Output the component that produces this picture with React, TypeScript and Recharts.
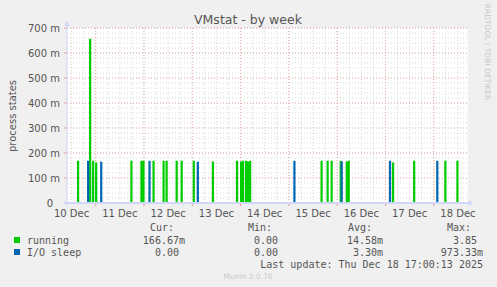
import React from "react";
import { ComposedChart, Line, XAxis, YAxis, CartesianGrid } from "recharts";

// spike times in hours counted from 10 Dec 00:00, values in process states
const runningTimes = [15, 21, 22.5, 24, 41.5, 46.5, 47.5, 52.5, 57.5, 59, 64, 66.5, 72.5, 82, 94, 96, 97, 98.5, 99.5, 100.5, 136, 139, 141, 145.5, 148.5, 149.5, 171.5, 182, 197.5, 203.5];
const runningValues = [0.1667, 0.655, 0.1667, 0.16, 0.1667, 0.1667, 0.1667, 0.1667, 0.1667, 0.1667, 0.1667, 0.1667, 0.1667, 0.1633, 0.1667, 0.1633, 0.1667, 0.1667, 0.1633, 0.1667, 0.1667, 0.1667, 0.1667, 0.1667, 0.1633, 0.1667, 0.16, 0.1667, 0.1667, 0.1667];
const ioSleepTimes = [20, 26.5, 50.5, 74.5, 122.5, 146, 170, 193.5];
const ioSleepValues = [0.1667, 0.163, 0.1667, 0.163, 0.1667, 0.1633, 0.1667, 0.1667];

const dayLabels = ["10 Dec", "11 Dec", "12 Dec", "13 Dec", "14 Dec", "15 Dec", "16 Dec", "17 Dec", "18 Dec"];
const yTicks = [0, 0.1, 0.2, 0.3, 0.4, 0.5, 0.6, 0.7];

const legendRows = [
  { name: "running", color: "#00CC00", cur: "166.67m", min: "0.00", avg: "14.58m", max: "3.85" },
  { name: "I/O sleep", color: "#0066B3", cur: "0.00", min: "0.00", avg: "3.30m", max: "973.33m" },
];

const START = 9.75;
const END = 209;
const STEP = 0.5; // rrd step, 30 minutes

function toSeries(times: number[], values: number[]) {
  const pts: { t: number; v: number }[] = [{ t: START, v: 0 }];
  times.forEach((t, i) => {
    pts.push({ t, v: values[i] });
    pts.push({ t: t + STEP, v: 0 });
  });
  pts.push({ t: END, v: 0 });
  return pts;
}

const runningData = toSeries(runningTimes, runningValues);
const ioSleepData = toSeries(ioSleepTimes, ioSleepValues);

const noonTicks = dayLabels.map((_, i) => 12 + i * 24);
const midnightTicks = dayLabels.slice(1).map((_, i) => 24 + i * 24);
const xTicks = [...noonTicks, ...midnightTicks].sort((a, b) => a - b);

const minorV: number[] = [];
for (let h = 12; h < END; h += 6) minorV.push(h);
const minorH: number[] = [];
for (let k = 1; k <= 35; k++) minorH.push(k * 0.02);

const FONT = "'DejaVu Sans', Verdana, sans-serif";
const MONO = "'DejaVu Sans Mono', monospace";
const TEXT = "#555555";
const AXIS = "#CFD6F8";

const XTick = (props: any) => {
  const { x, y, payload } = props;
  const i = noonTicks.indexOf(payload.value);
  if (i >= 0) {
    return (
      <text x={x} y={y + 10} textAnchor="middle" dominantBaseline="central" fontFamily={FONT} fontSize={10} fill={TEXT}>
        {dayLabels[i]}
      </text>
    );
  }
  return <line x1={x} x2={x} y1={y} y2={y + 3} stroke="#E89090" strokeWidth={1} />;
};

const YTick = (props: any) => {
  const { x, y, payload } = props;
  const v = payload.value;
  const label = v === 0 ? "0" : `${Math.round(v * 1000)} m`;
  return (
    <g>
      <line x1={x - 3} x2={x} y1={y} y2={y} stroke="#E8A0A0" />
      <text x={v === 0 ? x - 14 : x - 7} y={y} textAnchor="end" dominantBaseline="central" fontFamily={FONT} fontSize={10} fill={TEXT}>
        {label}
      </text>
    </g>
  );
};

export default function App() {
  return (
    <div style={{ position: "absolute", left: 0, top: 0, width: 497, height: 287, background: "#F0F0F0" }}>
      <ComposedChart width={497} height={287} margin={{ top: 28, right: 29, bottom: 64, left: 7 }}>
        <CartesianGrid fill="#FFFFFF" stroke="#D8D8D8" strokeDasharray="1 2" verticalValues={minorV} horizontalValues={minorH} />
        <CartesianGrid fill="none" stroke="#EBA8A8" strokeDasharray="1 2" verticalValues={midnightTicks} horizontalValues={yTicks.slice(1)} />
        <XAxis
          type="number"
          dataKey="t"
          domain={[START, END]}
          allowDataOverflow
          ticks={xTicks}
          interval={0}
          tick={<XTick />}
          tickLine={false}
          tickSize={0}
          tickMargin={0}
          axisLine={false}
          height={20}
        />
        <YAxis
          type="number"
          domain={[0, 0.7]}
          ticks={yTicks}
          interval={0}
          tick={<YTick />}
          tickLine={false}
          tickSize={0}
          tickMargin={0}
          axisLine={false}
          width={60}
        />
        <Line data={runningData} dataKey="v" type="stepAfter" stroke="#00CC00" strokeWidth={1.2} dot={false} isAnimationActive={false} />
        <Line data={ioSleepData} dataKey="v" type="stepAfter" stroke="#0066B3" strokeWidth={1.2} dot={false} isAnimationActive={false} />
      </ComposedChart>
      <svg width={497} height={287} style={{ position: "absolute", left: 0, top: 0, pointerEvents: "none" }}>
        <line x1={67} x2={67} y1={206} y2={25} stroke={AXIS} strokeWidth={1} />
        <polygon points="64,26 70,26 67,21" fill={AXIS} />
        <line x1={64} x2={469} y1={203} y2={203} stroke={AXIS} strokeWidth={2} />
        <polygon points="468,200 468,206 473.5,203" fill={AXIS} />
        <text x={248} y={19} textAnchor="middle" dominantBaseline="central" fontFamily={FONT} fontSize={12.5} fill={TEXT}>
          VMstat - by week
        </text>
        <text transform="translate(12,116) rotate(-90)" textAnchor="middle" dominantBaseline="central" fontFamily={FONT} fontSize={10} fill={TEXT}>
          process states
        </text>
        <text transform="translate(487,52) rotate(90)" textAnchor="middle" dominantBaseline="central" fontFamily={FONT} fontSize={7.5} fill="#C8C8C8">
          RRDTOOL / TOBI OETIKER
        </text>
        <g fontFamily={MONO} fontSize={10} fill={TEXT}>
          <text x={150} y={227} dominantBaseline="central">Cur:</text>
          <text x={248} y={227} dominantBaseline="central">Min:</text>
          <text x={348} y={227} dominantBaseline="central">Avg:</text>
          <text x={447} y={227} dominantBaseline="central">Max:</text>
          {legendRows.map((r, i) => {
            const y = 240 + i * 12;
            return (
              <g key={r.name}>
                <rect x={14} y={y - 3} width={6} height={6} fill={r.color} />
                <text x={27} y={y} dominantBaseline="central">{r.name}</text>
                <text x={i === 0 ? 185 : 179} y={y} textAnchor="end" dominantBaseline="central">{r.cur}</text>
                <text x={278} y={y} textAnchor="end" dominantBaseline="central">{r.min}</text>
                <text x={383} y={y} textAnchor="end" dominantBaseline="central">{r.avg}</text>
                <text x={i === 0 ? 477 : 483} y={y} textAnchor="end" dominantBaseline="central">{r.max}</text>
              </g>
            );
          })}
          <text x={483} y={264} textAnchor="end" dominantBaseline="central">Last update: Thu Dec 18 17:00:13 2025</text>
        </g>
        <text x={248} y={276} textAnchor="middle" dominantBaseline="central" fontFamily={FONT} fontSize={7.5} fill="#C8C8C8">
          Munin 2.0.76
        </text>
      </svg>
    </div>
  );
}
